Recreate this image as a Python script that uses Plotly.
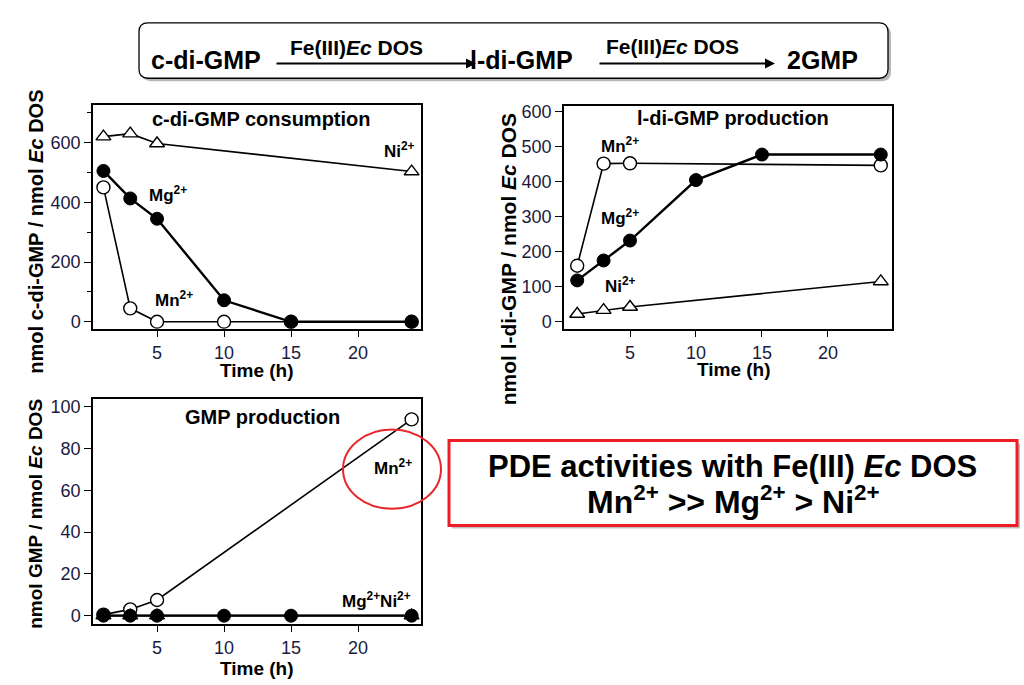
import plotly.graph_objects as go

# time points (h)
time = [1, 3, 5, 10, 15, 24]
time_short = [1, 3, 5, 24]

# c-di-GMP consumption
cons_mn = [450, 45, 0, 0, 0, 0]
cons_mg = [505, 413, 345, 72, 0, 0]
cons_ni = [620, 630, 597, 503]

# l-di-GMP production
prod_mn = [160, 452, 453, 447]
prod_mg = [118, 175, 232, 405, 478, 478]
prod_ni = [22, 33, 42, 115]

# GMP production
gmp_mn = [0.5, 3, 7.5, 94]
gmp_mg = [0, 0, 0, 0, 0, 0]
gmp_ni = [0, 0, 0, 0]

FONT = "Liberation Sans, Arial, sans-serif"
TICKC = "#1a1a40"
W, H = 1024, 685


def px(x):
    return x / W


def py(y):
    return 1 - y / H


fig = go.Figure()


def add_panel(n, mn_x, mn_y, mg_x, mg_y, ni_x, ni_y, ni_fill="white"):
    xa = "x" if n == 1 else f"x{n}"
    ya = "y" if n == 1 else f"y{n}"
    fig.add_trace(go.Scatter(x=mn_x, y=mn_y, xaxis=xa, yaxis=ya, mode="lines+markers",
                             line=dict(color="black", width=1.6),
                             marker=dict(symbol="circle", size=13, color="white",
                                         line=dict(color="black", width=1.4))))
    fig.add_trace(go.Scatter(x=ni_x, y=ni_y, xaxis=xa, yaxis=ya, mode="lines+markers",
                             line=dict(color="black", width=1.6),
                             marker=dict(symbol="triangle-up", size=13, color=ni_fill,
                                         line=dict(color="black", width=1.4))))
    fig.add_trace(go.Scatter(x=mg_x, y=mg_y, xaxis=xa, yaxis=ya, mode="lines+markers",
                             line=dict(color="black", width=2.4),
                             marker=dict(symbol="circle", size=13, color="black",
                                         line=dict(color="black", width=1))))


add_panel(1, time, cons_mn, time, cons_mg, time_short, cons_ni)
add_panel(2, time_short, prod_mn, time, prod_mg, time_short, prod_ni)
add_panel(3, time_short, gmp_mn, time, gmp_mg, time_short, gmp_ni, ni_fill="black")

axis_common = dict(showline=True, linecolor="black", linewidth=1.5, mirror=True,
                   ticks="outside", ticklen=7, tickwidth=1.3, tickcolor="black",
                   showgrid=False, zeroline=False,
                   tickfont=dict(family=FONT, size=18, color=TICKC))

fig.update_layout(
    width=W, height=685,
    margin=dict(l=0, r=0, t=0, b=0),
    paper_bgcolor="white", plot_bgcolor="white",
    showlegend=False,
    xaxis=dict(domain=[px(93), px(421)], range=[0.22, 24.7], tickvals=[5, 10, 15, 20],
               anchor="y", **axis_common),
    yaxis=dict(domain=[py(328), py(102)], range=[-23, 726], tickvals=[0, 200, 400, 600],
               minor=dict(tickvals=[100, 300, 500, 700], ticks="outside", ticklen=4,
                          tickcolor="black"),
               anchor="x", **axis_common),
    xaxis2=dict(domain=[px(564), px(892)], range=[0, 24.85], tickvals=[5, 10, 15, 20],
                anchor="y2", **axis_common),
    yaxis2=dict(domain=[py(328), py(103)], range=[-20, 617], dtick=100,
                anchor="x2", **axis_common),
    xaxis3=dict(domain=[px(93), px(421)], range=[0.22, 24.7], tickvals=[5, 10, 15, 20],
                anchor="y3", **axis_common),
    yaxis3=dict(domain=[py(626), py(399)], range=[-3.8, 103.8], dtick=20,
                anchor="x3", **axis_common),
)

ann = []


def label(text, x, y, xref, yref, size=17, angle=0, color="black"):
    ann.append(dict(text=text, x=x, y=y, xref=xref, yref=yref, showarrow=False,
                    textangle=angle, xanchor="center", yanchor="middle",
                    font=dict(family=FONT, size=size, color=color)))


# in-plot labels
label("<b>c-di-GMP consumption</b>", 12.8, 680, "x", "y", size=20)
label("<b>Ni<sup>2+</sup></b>", 23.1, 574, "x", "y")
label("<b>Mg<sup>2+</sup></b>", 5.8, 428, "x", "y")
label("<b>Mn<sup>2+</sup></b>", 6.3, 76, "x", "y")

label("<b>l-di-GMP production</b>", 12.84, 583, "x2", "y2", size=20)
label("<b>Mn<sup>2+</sup></b>", 4.24, 504, "x2", "y2")
label("<b>Mg<sup>2+</sup></b>", 4.24, 300, "x2", "y2")
label("<b>Ni<sup>2+</sup></b>", 4.3, 105, "x2", "y2")

label("<b>GMP production</b>", 12.84, 95.3, "x3", "y3", size=20)
label("<b>Mn<sup>2+</sup></b>", 22.6, 71, "x3", "y3")
label("<b>Mg<sup>2+</sup>Ni<sup>2+</sup></b>", 21.4, 7.6, "x3", "y3")

# axis titles
label("<b>Time (h)</b>", px(257), py(370), "paper", "paper", size=19)
label("<b>Time (h)</b>", px(734), py(369), "paper", "paper", size=19)
label("<b>Time (h)</b>", px(257), py(671), "paper", "paper", size=19)
label("<b>nmol c-di-GMP / nmol <i>Ec</i> DOS</b>", px(36), py(230), "paper", "paper",
      size=20, angle=-90)
label("<b>nmol l-di-GMP / nmol <i>Ec</i> DOS</b>", px(508), py(258), "paper", "paper",
      size=21, angle=-90)
label("<b>nmol GMP / nmol <i>Ec</i> DOS</b>", px(36), py(515), "paper", "paper",
      size=19, angle=-90)

# reaction scheme
label("<b>c-di-GMP</b>", px(206), py(57), "paper", "paper", size=25)
label("<b>l-di-GMP</b>", px(521), py(57), "paper", "paper", size=25)
label("<b>2GMP</b>", px(822), py(57), "paper", "paper", size=25)
label("<b>Fe(III)<i>Ec</i> DOS</b>", px(356), py(44), "paper", "paper", size=21)
label("<b>Fe(III)<i>Ec</i> DOS</b>", px(672), py(43), "paper", "paper", size=21)

for head, tail in [(476, 275), (775, 598)]:
    ann.append(dict(text="", x=px(head), y=py(60), xref="paper", yref="paper",
                    ax=tail - head, ay=0, showarrow=True, arrowhead=2, arrowsize=1,
                    arrowwidth=2, arrowcolor="black"))

# summary box
label("<b>PDE activities with Fe(III) <i>Ec</i> DOS</b>", px(732), py(467), "paper", "paper",
      size=31)
label("<b>Mn<sup>2+</sup> >> Mg<sup>2+</sup> > Ni<sup>2+</sup></b>", px(733), py(501),
      "paper", "paper", size=32)

fig.update_layout(annotations=ann)


def rounded(x0, y0, x1, y1, r):
    rx, ry = r / W, r / H
    X0, X1, Y0, Y1 = px(x0), px(x1), py(y1), py(y0)
    return (f"M {X0+rx},{Y1} L {X1-rx},{Y1} Q {X1},{Y1} {X1},{Y1-ry} "
            f"L {X1},{Y0+ry} Q {X1},{Y0} {X1-rx},{Y0} L {X0+rx},{Y0} "
            f"Q {X0},{Y0} {X0},{Y0+ry} L {X0},{Y1-ry} Q {X0},{Y1} {X0+rx},{Y1} Z")


shapes = [
    dict(type="path", path=rounded(142, 22, 891, 78, 9), xref="paper", yref="paper",
         fillcolor="rgba(0,0,0,0.28)", line=dict(width=0), layer="below"),
    dict(type="path", path=rounded(139, 19, 888, 75, 9), xref="paper", yref="paper",
         fillcolor="white", line=dict(color="black", width=1.3), layer="below"),
    dict(type="rect", x0=px(452), x1=px(1020), y0=py(530), y1=py(444), xref="paper",
         yref="paper", fillcolor="rgba(0,0,0,0.25)", line=dict(width=0), layer="below"),
    dict(type="rect", x0=px(449), x1=px(1017), y0=py(527), y1=py(441), xref="paper",
         yref="paper", fillcolor="white", line=dict(color="#ee1c24", width=3),
         layer="below"),
    dict(type="circle", x0=px(343), x1=px(441), y0=py(510), y1=py(430), xref="paper",
         yref="paper", line=dict(color="#e8262a", width=2)),
]
fig.update_layout(shapes=shapes)

fig.write_html("out.html", config={"displayModeBar": False},
               post_script="document.body.style.margin='0';")
